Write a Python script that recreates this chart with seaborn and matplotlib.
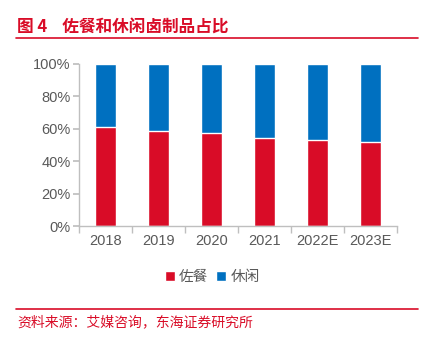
import matplotlib
matplotlib.use("Agg")
import matplotlib.pyplot as plt
import seaborn as sns
import pandas as pd
from matplotlib.patches import Patch
from matplotlib.lines import Line2D

years = ["2018", "2019", "2020", "2021", "2022E", "2023E"]
zuocan = [61.0, 58.4, 57.2, 54.5, 52.9, 51.9]
xiuxian = [100 - v for v in zuocan]
series_names = ["佐餐", "休闲"]
title = "图 4    佐餐和休闲卤制品占比"
source = "资料来源：艾媒咨询，东海证券研究所"

RED = "#D90C27"
BLUE = "#0070C0"
GRAY = "#595959"
AXC = "#BFBFBF"

sns.set_theme(style="white")
plt.rcParams['font.family'] = ['Noto Sans CJK SC', 'DejaVu Sans']
TICKFONT = ['Liberation Sans', 'DejaVu Sans']

fig = plt.figure(figsize=(4.24, 3.37), dpi=100)
ax = fig.add_axes([79/424, 1-226/337, 318/424, 162/337])

df = pd.DataFrame({"year": years, "total": [a + b for a, b in zip(zuocan, xiuxian)], "zuocan": zuocan})
sns.barplot(data=df, x="year", y="total", color=BLUE, width=0.41, ax=ax, saturation=1)
sns.barplot(data=df, x="year", y="zuocan", color=RED, width=0.41, ax=ax, saturation=1)

ax.set_xlim(-0.5, len(years) - 0.5)
ax.set_ylim(0, 100)
ax.set_yticks(range(0, 101, 20))
ax.set_yticklabels([f"{v}%" for v in range(0, 101, 20)])
ax.set_xlabel("")
ax.set_ylabel("")
for s in ["top", "right"]:
    ax.spines[s].set_visible(False)
for s in ["left", "bottom"]:
    ax.spines[s].set_color(AXC)
    ax.spines[s].set_linewidth(1.0)
ax.tick_params(axis="y", length=4, color=AXC, labelsize=10.5, labelcolor=GRAY, left=True, pad=2)
ax.tick_params(axis="x", length=0, labelsize=10.5, labelcolor=GRAY, pad=6)
for lab in ax.get_xticklabels() + ax.get_yticklabels():
    lab.set_family(TICKFONT)
# category boundary ticks on x axis
ax.set_xticks([i - 0.5 for i in range(len(years) + 1)], minor=True)
ax.tick_params(axis="x", which="minor", length=5, color=AXC, bottom=True)

handles = [Patch(facecolor=RED, label=series_names[0]), Patch(facecolor=BLUE, label=series_names[1])]
fig.legend(handles=handles, loc="center", bbox_to_anchor=(0.5, 1-277/337), ncol=2, frameon=False,
           fontsize=10.5, handlelength=0.7, handleheight=0.7, handletextpad=0.3, columnspacing=0.5,
           labelcolor=GRAY)

fig.text(17/424, 1-27/337, title, color=RED, fontsize=12, fontweight="bold", va="center", ha="left")
fig.add_artist(Line2D([16/424, 418/424], [1-38/337, 1-38/337], color=RED, lw=1.2))
fig.add_artist(Line2D([16/424, 418/424], [1-309/337, 1-309/337], color=RED, lw=1.2))
fig.text(17/424, 1-322/337, source, color=RED, fontsize=10, va="center", ha="left")

fig.savefig("out.png", dpi=100)
